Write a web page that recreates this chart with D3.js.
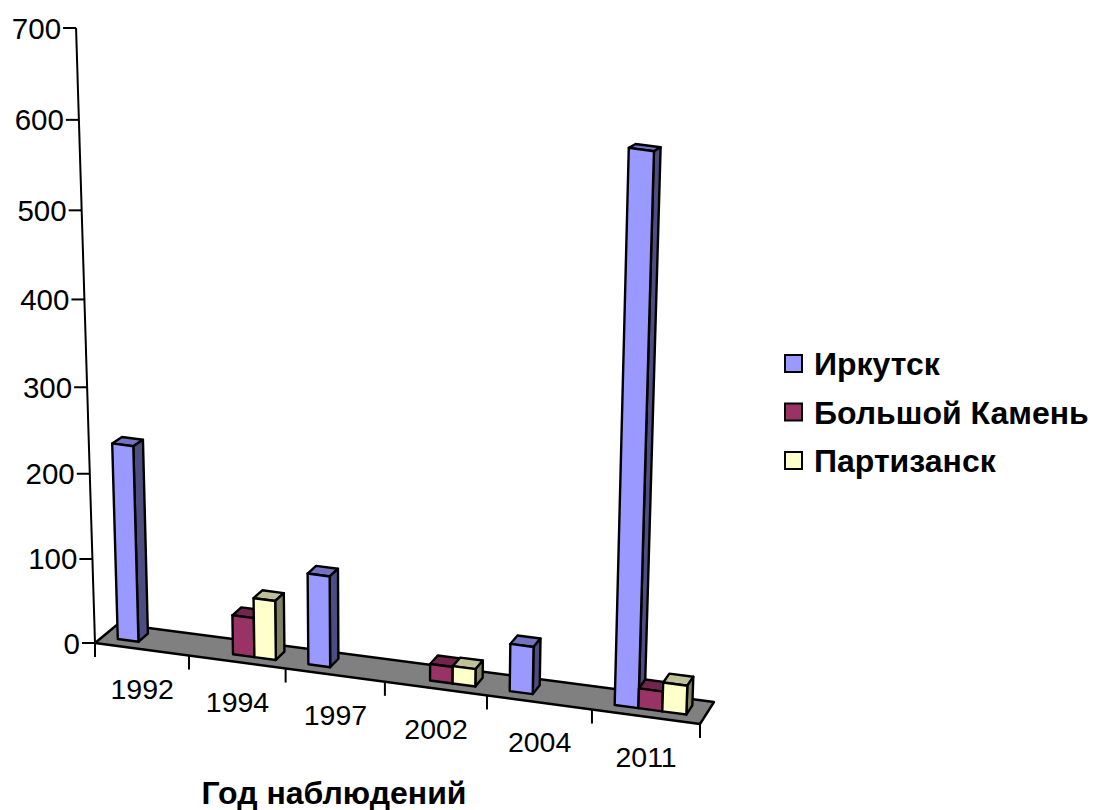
<!DOCTYPE html>
<html><head><meta charset="utf-8">
<script src="https://cdnjs.cloudflare.com/ajax/libs/d3/7.8.5/d3.min.js"></script>
<style>html,body{margin:0;background:#fff}svg{display:block}text{font-family:"Liberation Sans",Arial,sans-serif;fill:#000}</style>
</head><body><svg id="c" width="1094" height="810"></svg>
<script>
const years = ["1992","1994","1997","2002","2004","2011"];
const seriesNames = ["Иркутск","Большой Камень","Партизанск"];
const irkutsk = [232,null,109,null,57,646];
const bolshoiKamen = [null,47,null,20,null,24];
const partizansk = [null,71,null,21,null,35];
const yTicks = [0,100,200,300,400,500,600,700];
const faceColors = ["#9999ff","#993366","#ffffcc"];
const topColors = ["#7373c0","#73264d","#bfbf99"];
const sideColors = ["#4d4d80","#4d1a33","#808066"];

const svg = d3.select("#c");
const W = {fl:[95,643],fr:[700,724],bl:[118,624],br:[714,702]};
const VP = [382,9961];
const catScale = d3.scaleLinear().domain([0,years.length]).range([0,1]);
const depthScale = d3.scaleLinear().domain([0,1]).range([0,1]);
const valueScale = d3.scaleLinear().domain([0,700]).range([0,1]);
const persp = 0.92, lean = 0.0508, totalLift = 615/9318, flatten = 0.64;

function project(c, d, v){
  const u0 = catScale(c), u = u0*persp/(1-(1-persp)*u0), dd = depthScale(d);
  const t = valueScale(v);
  const front = [W.fl[0]+(W.fr[0]-W.fl[0])*u, W.fl[1]+(W.fr[1]-W.fl[1])*u];
  const back  = [W.bl[0]+(W.br[0]-W.bl[0])*u, W.bl[1]+(W.br[1]-W.bl[1])*u];
  const p = [front[0]+(back[0]-front[0])*dd, front[1]+(back[1]-front[1])*dd*(1-flatten*t)];
  const k = 1 + totalLift*t*(1-lean)/(1-lean*t);
  return [VP[0]+(p[0]-VP[0])*k, VP[1]+(p[1]-VP[1])*k];
}
const line = d3.line();
const poly = pts => line(pts)+"Z";
const sw = 2, barSw = 2.4;

// floor
svg.append("path").attr("d",poly([project(0,0,0),project(6,0,0),project(6,1,0),project(0,1,0)]))
  .attr("fill","#808080").attr("stroke","#000").attr("stroke-width",sw+0.4).attr("stroke-linejoin","round");

// axes
const axis = svg.append("g").attr("stroke","#000").attr("stroke-width",sw).attr("fill","none");
axis.append("path").attr("d",line([project(0,0,0),project(0,0,700)]));
yTicks.forEach(v=>{
  const p = project(0,0,v);
  axis.append("path").attr("d",line([p,[p[0]-13,p[1]]]));
  svg.append("text").attr("x",p[0]-15).attr("y",p[1]+10.5).attr("text-anchor","end").attr("font-size",29.5).text(v);
});
d3.range(years.length+1).forEach(i=>{
  const p = project(i,0,0);
  axis.append("path").attr("d",line([p,[p[0],p[1]+14]]));
});
years.forEach((y,i)=>{
  const p = project(i+0.5,0,0);
  svg.append("text").attr("x",p[0]+0.5).attr("y",p[1]+50).attr("text-anchor","middle").attr("font-size",28.5).text(y);
});

// bars
const series = [irkutsk,bolshoiKamen,partizansk];
const barW = 1/4.5, gap = 0.75/4.5, d0 = 0.32, d1 = 0.74;
const bars = svg.append("g").attr("stroke","#000").attr("stroke-width",barSw).attr("stroke-linejoin","round");
years.forEach((y,i)=>{
  series.forEach((vals,s)=>{
    const v = vals[i];
    if(v==null) return;
    const a = i+gap+s*barW, b = a+barW;
    bars.append("path").attr("fill",topColors[s]).attr("d",poly([project(a,d0,v),project(b,d0,v),project(b,d1,v),project(a,d1,v)]));
    bars.append("path").attr("fill",sideColors[s]).attr("d",poly([project(b,d0,0),project(b,d1,0),project(b,d1,v),project(b,d0,v)]));
    bars.append("path").attr("fill",faceColors[s]).attr("d",poly([project(a,d0,0),project(b,d0,0),project(b,d0,v),project(a,d0,v)]));
  });
});

// axis title
svg.append("text").attr("x",334).attr("y",804).attr("text-anchor","middle").attr("font-size",32).attr("font-weight","bold").text("Год наблюдений");

// legend
const legY = d3.scaleLinear().domain([0,2]).range([375,472]);
seriesNames.forEach((n,s)=>{
  const by = legY(s);
  svg.append("rect").attr("x",785).attr("y",by-20).attr("width",17).attr("height",17)
    .attr("fill",faceColors[s]).attr("stroke","#000").attr("stroke-width",2);
  svg.append("text").attr("x",814).attr("y",by).attr("font-size",32).attr("font-weight","bold").text(n);
});
</script></body></html>
